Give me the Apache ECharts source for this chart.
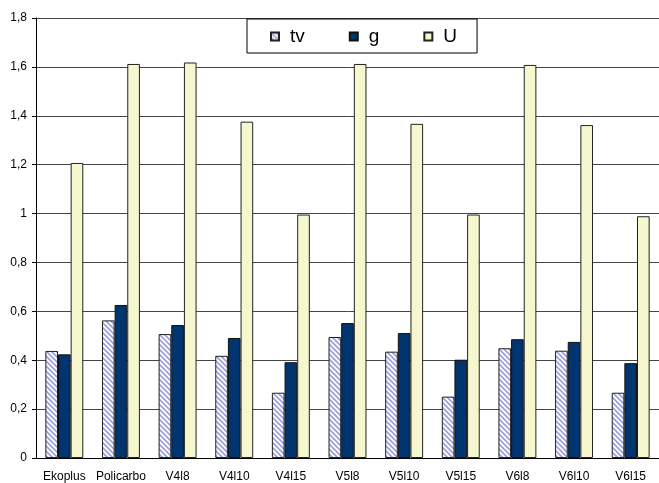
<!DOCTYPE html>
<html>
<head>
<meta charset="utf-8">
<script src="https://cdn.jsdelivr.net/npm/echarts@6/dist/echarts.min.js"></script>
<style>
  html, body { margin: 0; padding: 0; background: #fff; }
  #chart { width: 659px; height: 483px; }
</style>
</head>
<body>
<div id="chart"></div>
<script>
// data
var categories = ['Ekoplus', 'Policarbo', 'V4l8', 'V4l10', 'V4l15', 'V5l8', 'V5l10', 'V5l15', 'V6l8', 'V6l10', 'V6l15'];
var tvValues = [0.438, 0.563, 0.507, 0.418, 0.267, 0.495, 0.435, 0.251, 0.449, 0.439, 0.267];
var gValues  = [0.424, 0.626, 0.544, 0.491, 0.392, 0.552, 0.511, 0.402, 0.486, 0.475, 0.388];
var uValues  = [1.207, 1.612, 1.618, 1.376, 0.996, 1.612, 1.367, 0.996, 1.608, 1.362, 0.989];

// hatched fill for tv (diagonal stripes)
function makeHatch() {
  var c = document.createElement('canvas');
  c.width = 5; c.height = 5;
  var ctx = c.getContext('2d');
  ctx.fillStyle = '#ffffff';
  ctx.fillRect(0, 0, 5, 5);
  ctx.strokeStyle = '#9ea2dc';
  ctx.lineWidth = 1.8;
  ctx.beginPath();
  ctx.moveTo(-1, -1); ctx.lineTo(6, 6);
  ctx.moveTo(-4, 1); ctx.lineTo(1, 6);
  ctx.moveTo(1, -4); ctx.lineTo(6, 1);
  ctx.stroke();
  return c;
}

var chart = echarts.init(document.getElementById('chart'));

var option = {
  animation: false,
  textStyle: { fontFamily: 'Liberation Sans, Arial, sans-serif' },
  grid: { left: 36, right: 0, top: 18, bottom: 24 },
  legend: {
    data: ['tv', 'g', 'U'],
    left: 247,
    top: 19,
    padding: [8, 20, 7, 23],
    borderColor: '#000',
    borderWidth: 1,
    itemWidth: 8,
    itemHeight: 8,
    itemGap: 44,
    icon: 'rect',
    textStyle: { fontSize: 19, color: '#000', padding: [0, 0, 0, 6] }
  },
  xAxis: {
    type: 'category',
    data: categories,
    axisLine: { lineStyle: { color: '#000' } },
    axisTick: { length: 5, lineStyle: { color: '#000' } },
    axisLabel: { color: '#000', fontSize: 12, margin: 13, interval: 0 }
  },
  yAxis: {
    type: 'value',
    min: 0,
    max: 1.8,
    interval: 0.2,
    axisLine: { show: true, lineStyle: { color: '#000' } },
    axisTick: { show: true, length: 4, lineStyle: { color: '#000' } },
    axisLabel: {
      color: '#000',
      fontSize: 12,
      margin: 9,
      formatter: function (v) { return String(+v.toFixed(1)).replace('.', ','); }
    },
    splitLine: { lineStyle: { color: '#444', width: 1 } }
  },
  series: [
    {
      name: 'tv',
      type: 'bar',
      data: tvValues,
      barGap: '0%',
      barCategoryGap: '33%',
      itemStyle: { color: { image: makeHatch(), repeat: 'repeat' }, borderColor: '#222', borderWidth: 1 }
    },
    {
      name: 'g',
      type: 'bar',
      data: gValues,
      itemStyle: { color: '#003570', borderColor: '#111', borderWidth: 1 }
    },
    {
      name: 'U',
      type: 'bar',
      data: uValues,
      itemStyle: { color: '#f6f6cf', borderColor: '#222', borderWidth: 1 }
    }
  ]
};

chart.setOption(option);
</script>
</body>
</html>
